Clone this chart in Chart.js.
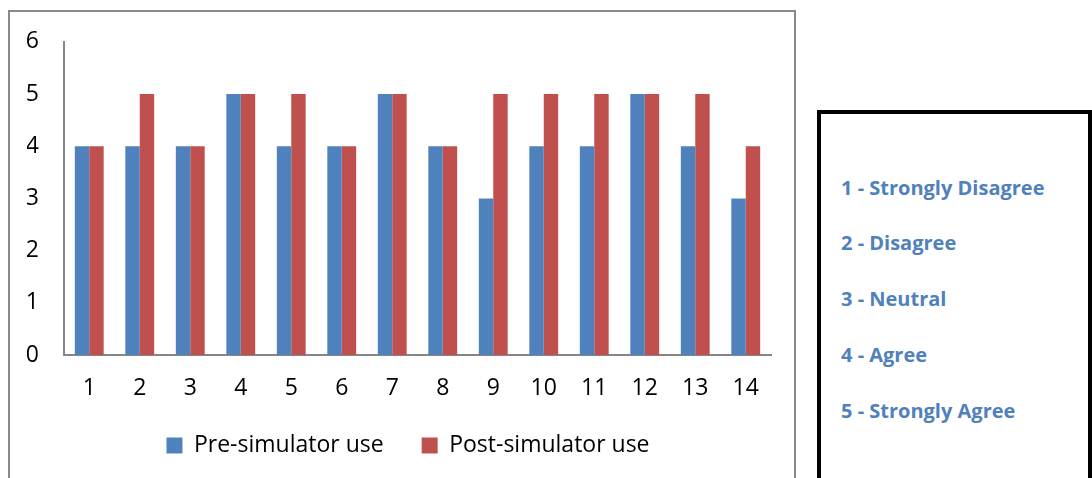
<!DOCTYPE html>
<html>
<head>
<meta charset="utf-8">
<script src="https://cdn.jsdelivr.net/npm/chart.js@4/dist/chart.umd.min.js"></script>
<style>
  body { margin: 0; width: 1092px; height: 478px; overflow: hidden; background: #fff; }
  #chart-box {
    position: absolute; left: 8px; top: 10px; width: 788px; height: 480px;
    border: 2px solid #898989; box-sizing: border-box; border-bottom: none;
  }
  /* canvas pulled up a bit so the y label padding lands where excel put the axis */
  #chart-wrap { position: absolute; left: 0px; top: -9px; width: 786px; height: 464px; }
  #key {
    position: absolute; left: 817px; top: 110px; width: 275px; height: 380px;
    border: 4px solid #000; box-sizing: border-box;
    font-family: "Open Sans", sans-serif; font-weight: bold; font-size: 20px; color: #4F81BD;
  }
  #key div { position: absolute; left: 20px; white-space: nowrap; line-height: 23px; }
</style>
</head>
<body>
<div id="chart-box">
  <div id="chart-wrap"><canvas id="bar-chart"></canvas></div>
</div>
<div id="key">
  <div style="top:62px">1 - Strongly Disagree</div>
  <div style="top:117px">2 - Disagree</div>
  <div style="top:173px">3 - Neutral</div>
  <div style="top:229px">4 - Agree</div>
  <div style="top:285px">5 - Strongly Agree</div>
</div>
<script>
const questions = ['1', '2', '3', '4', '5', '6', '7', '8', '9', '10', '11', '12', '13', '14']
const preUse = [4, 4, 4, 5, 4, 4, 5, 4, 3, 4, 4, 5, 4, 3]
const postUse = [4, 5, 4, 5, 5, 4, 5, 4, 5, 5, 5, 5, 5, 4]
const yTicks = [0, 1, 2, 3, 4, 5, 6]

const font = '"Open Sans", sans-serif'

new Chart(document.querySelector('#bar-chart').getContext('2d'), {
    type: 'bar',
    data: {
        labels: questions,
        datasets: [
            { label: 'Pre-simulator use', data: preUse, backgroundColor: '#4F81BD' },
            { label: 'Post-simulator use', data: postUse, backgroundColor: '#C0504D' }
        ]
    },
    options: {
        responsive: true,
        maintainAspectRatio: false,
        animation: false,
        layout: { padding: { top: 0, right: 7, left: 17, bottom: 0 } },
        // excel-ish gap width 150%
        datasets: { bar: { categoryPercentage: 2 / 3.5, barPercentage: 1 } },
        plugins: {
            tooltip: { enabled: false },
            legend: {
                position: 'bottom',
                labels: {
                    font: { family: font, size: 23 },
                    color: '#000',
                    boxWidth: 16,
                    boxHeight: 16,
                    padding: 38
                }
            }
        },
        scales: {
            x: {
                grid: { display: false, drawTicks: false },
                border: { display: true, color: '#868686', width: 2 },
                ticks: { font: { family: font, size: 23 }, color: '#000', padding: 20 },
                afterFit: s => { s.height = 41 }
            },
            y: {
                min: 0,
                max: 6,
                grid: { display: false, drawTicks: false },
                border: { display: true, color: '#868686', width: 2 },
                afterBuildTicks: s => { s.ticks = yTicks.map(v => ({ value: v })) },
                ticks: { font: { family: font, size: 23 }, color: '#000', padding: 25 },
                afterFit: s => { s.width = 37 }
            },
            // empty spacer on the right so the legend centres under the plot like excel
            spacer: {
                position: 'right',
                grid: { display: false, drawTicks: false },
                border: { display: false },
                ticks: { display: false },
                afterFit: s => { s.width = 18 }
            }
        }
    }
})
</script>
</body>
</html>
